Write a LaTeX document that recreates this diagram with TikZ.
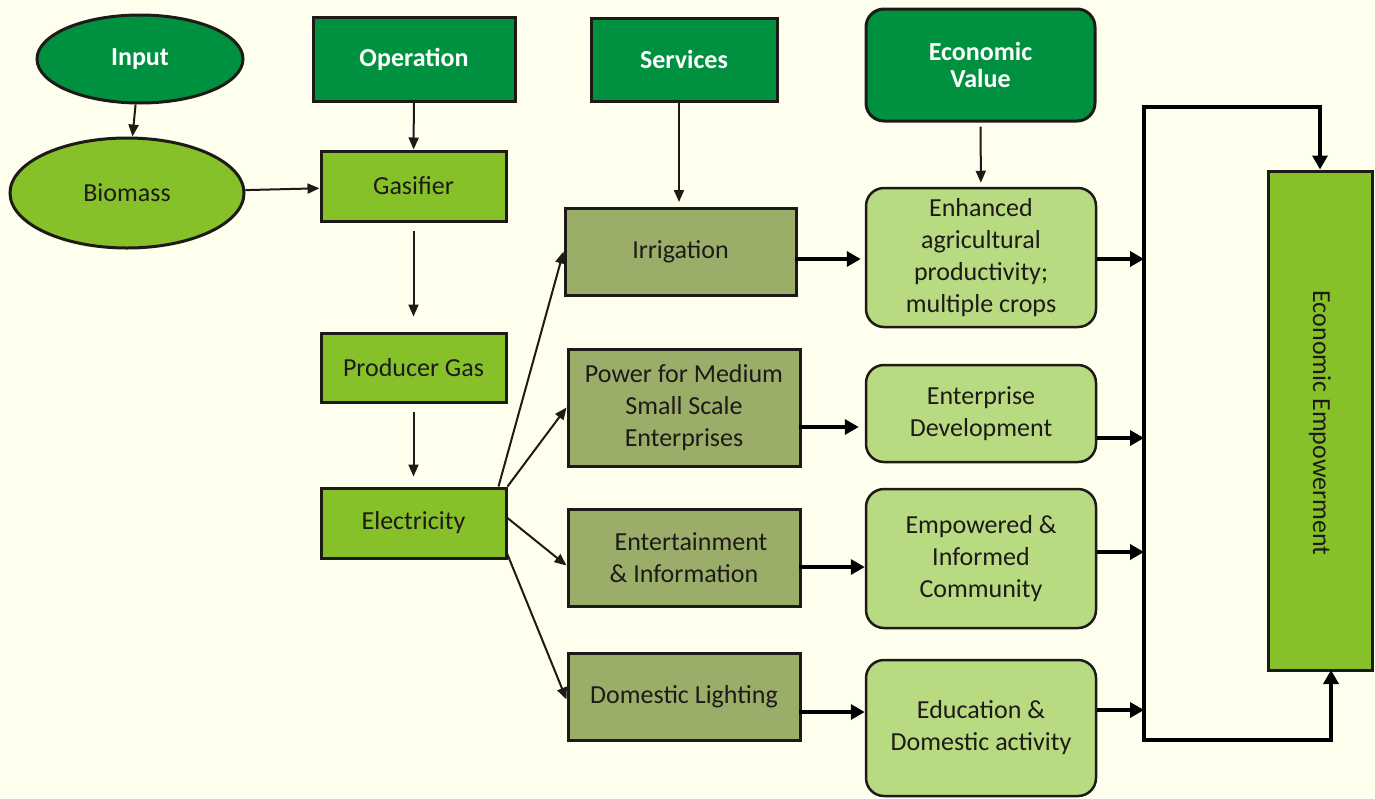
\documentclass[tikz,border=0pt]{standalone}
\usepackage{fontspec}
\setmainfont{Carlito}
\usetikzlibrary{shapes.geometric,arrows.meta}
\definecolor{bgc}{RGB}{255,255,238}
\definecolor{dkg}{RGB}{0,145,64}
\definecolor{ltg}{RGB}{134,193,42}
\definecolor{olv}{RGB}{154,174,106}
\definecolor{pale}{RGB}{184,219,130}
\definecolor{ink}{RGB}{30,26,24}
\tikzset{
  base/.style={draw=ink, line width=3pt, inner sep=2pt, align=center, text=ink,
    font=\fontsize{26}{32}\selectfont},
  headbox/.style={base, fill=dkg, text=white, font=\fontsize{26}{27}\selectfont\bfseries},
  headell/.style={headbox, ellipse},
  opbox/.style={base, fill=ltg},
  svbox/.style={base, fill=olv},
  valbox/.style={base, fill=pale, rounded corners=18pt, line width=2.5pt},
  thin arrow/.style={draw=ink, line width=2pt, -{Triangle[length=12pt,width=10pt]}},
  thick arrow/.style={draw=black, line width=3.5pt, -{Triangle[length=14pt,width=15pt]}},
  brk/.style={draw=black, line width=4pt},
}
\begin{document}
\begin{tikzpicture}[x=1pt,y=-1pt]
\useasboundingbox (0,0) rectangle (1375,798);
\fill[bgc] (0,0) rectangle (1375,798);

% headers
\node[headell, minimum width=206, minimum height=88] (inp) at (140,59) {Input};
\node[headbox, minimum width=202, minimum height=84] (op) at (414,59) {Operation};
\node[headbox, minimum width=186, minimum height=83] (sv) at (684,59.5) {Services};
\node[headbox, rounded corners=18pt, minimum width=229, minimum height=112] (ev) at (980.5,65) {Economic\\Value};

% operation column
\node[base, ellipse, fill=ltg, minimum width=234, minimum height=110] (bio) at (127,193) {Biomass};
\node[opbox, minimum width=185, minimum height=70] (gas) at (413.5,186) {Gasifier};
\node[opbox, minimum width=185, minimum height=69] (pg) at (413.5,367.5) {Producer Gas};
\node[opbox, minimum width=185, minimum height=70] (el) at (413.5,523) {Electricity};

% services
\node[svbox, minimum width=231, minimum height=87] (irr) at (680.5,251.5) {Irrigation};
\node[svbox, minimum width=232, minimum height=117] (pw) at (684,407.5) {Power for Medium\\Small Scale\\Enterprises};
\node[svbox, minimum width=232, minimum height=97] (ent) at (684,557.5) {\hspace*{14pt}Entertainment\\\& Information};
\node[svbox, minimum width=232, minimum height=87] (dl) at (684,696.5) {Domestic Lighting};

% values
\node[valbox, minimum width=230, minimum height=139] (v1) at (981,257.5) {Enhanced\\agricultural\\productivity;\\multiple crops};
\node[valbox, minimum width=230, minimum height=97] (v2) at (981,413.5) {Enterprise\\Development};
\node[valbox, minimum width=230, minimum height=139] (v3) at (981,558.5) {Empowered \&\\Informed\\Community};
\node[valbox, minimum width=230, minimum height=136] (v4) at (981,728) {Education \&\\Domestic activity};

% economic empowerment
\node[opbox, minimum width=104, minimum height=499] (emp) at (1320,420.5) {};
\node[text=ink, rotate=-90, font=\fontsize{26}{32}\selectfont] (empt) at (1320,423) {Economic Empowerment};

% vertical arrows
\draw[thin arrow] (inp) -- (bio);
\draw[thin arrow] (op) -- (gas);
\draw[thin arrow] (bio) -- (gas);
\draw[thin arrow, shorten <=8pt, shorten >=15pt] (gas) -- (pg);
\draw[thin arrow, shorten <=8pt, shorten >=10pt] (pg) -- (el);
\draw[thin arrow, shorten >=6pt] (sv.south -| 679,0) -- (679,208);
\draw[thin arrow, shorten <=4pt, shorten >=4pt] (ev) -- (v1);

% electricity to services
\draw[thin arrow] ([xshift=-9pt]el.north east) -- (irr.west);
\draw[thin arrow] (el.north east) -- (pw.west);
\draw[thin arrow] ([yshift=5pt]el.east) -- ([yshift=-8pt]ent.west);
\draw[thin arrow] ([yshift=5pt]el.south east) -- ([yshift=-3pt]dl.west);

% services to values
\draw[thick arrow] ([yshift=-7.5pt,xshift=-3pt]irr.east) -- ([yshift=-7.5pt,xshift=-4pt]irr.east -| v1.west);
\draw[thick arrow] ([yshift=-19.5pt,xshift=-3pt]pw.east) -- ([yshift=-19.5pt,xshift=-6pt]pw.east -| v2.west);
\draw[thick arrow] ([yshift=-9.5pt,xshift=-3pt]ent.east) -- ([yshift=-9.5pt]ent.east -| v3.west);
\draw[thick arrow] ([yshift=-15.5pt,xshift=-3pt]dl.east) -- ([yshift=-15.5pt]dl.east -| v4.west);

% bracket
\coordinate (bt) at (1144,107);
\coordinate (bb) at (1144,740);
\draw[brk, line cap=rect] (bb) -- (bt) -- (bt -| emp.north);
\draw[brk, -{Triangle[length=14pt,width=15pt]}] (bt -| emp.north) -- (emp.north);
\draw[brk, line cap=rect] (bb) -- (bb -| 1331,0);
\draw[brk, -{Triangle[length=14pt,width=15pt]}] (bb -| 1331,0) -- (1331,670);

% values to bracket
\draw[thick arrow] ([yshift=-1.5pt]v1.east) -- ([yshift=-1.5pt]v1.east -| bt);
\draw[thick arrow] ([yshift=-24.5pt]v2.east) -- ([yshift=-24.5pt]v2.east -| bt);
\draw[thick arrow] ([yshift=6.5pt]v3.east) -- ([yshift=6.5pt]v3.east -| bt);
\draw[thick arrow] ([yshift=18pt]v4.east) -- ([yshift=18pt]v4.east -| bt);
\end{tikzpicture}
\end{document}
